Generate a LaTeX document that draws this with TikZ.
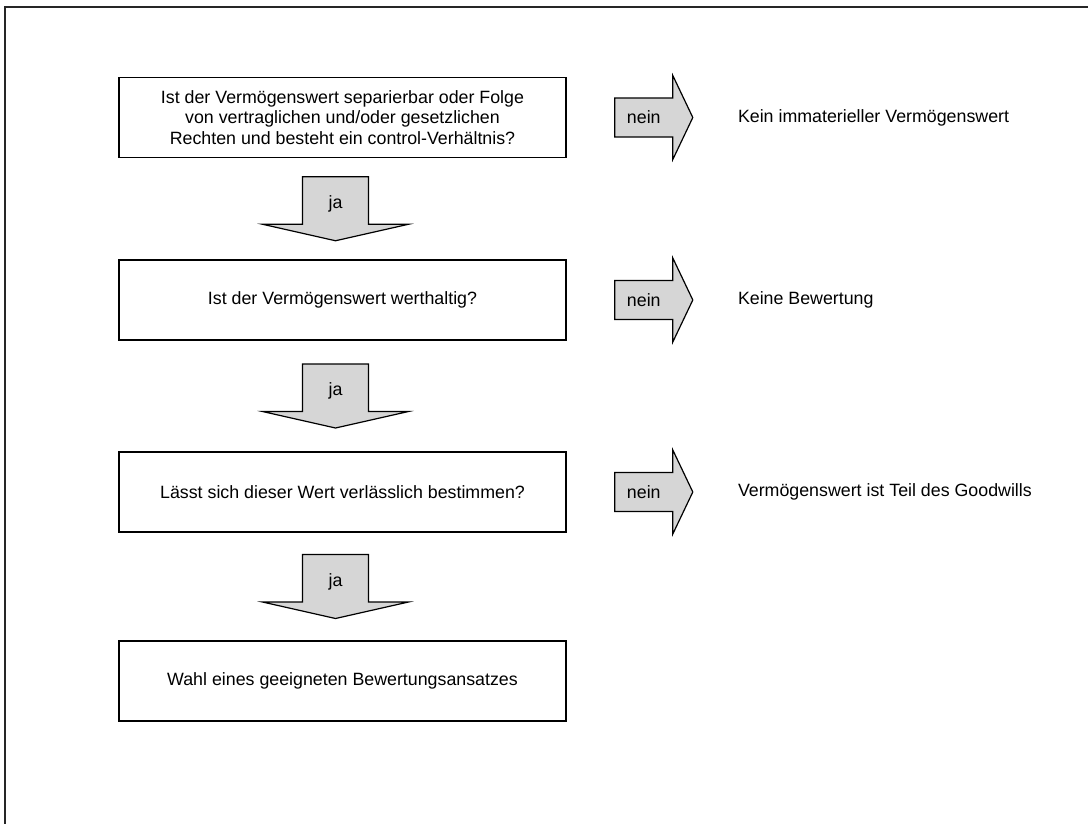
\documentclass[tikz,border=0pt]{standalone}
\usepackage{fontspec}
\setmainfont{Liberation Sans}
\usetikzlibrary{calc}
\definecolor{arrowbg}{HTML}{d6d6d6}
\definecolor{framegray}{HTML}{262626}

\begin{document}
\begin{tikzpicture}[x=1pt,y=-1pt,
every node/.style = {font=\fontsize{17.8}{20.5}\selectfont},
question/.style = {draw, line width=1.6pt, minimum width=447pt,
  minimum height=80pt, align=center, inner sep=0pt},
answer/.style = {anchor=west, inner sep=0pt},
blockarrow/.style = {line width=1.2pt, fill=arrowbg, line join=miter}
]
\useasboundingbox (0,0) rectangle (1088,823);
\draw [line width=2.2pt, color=framegray] (5,830) -- (5,7) -- (1095,7);

\node [question] (q1) at (342.5,117.5) {Ist der Vermögenswert separierbar oder Folge\\
  von vertraglichen und/oder gesetzlichen\\
  Rechten und besteht ein control-Verhältnis?};
\node [question] (q2) at (342.5,300) {Ist der Vermögenswert werthaltig?};
\node [question] (q3) at (342.5,492) {Lässt sich dieser Wert verlässlich bestimmen?};
\node [question] (q4) at (342.5,681) {Wahl eines geeigneten Bewertungsansatzes};

% ja arrows between the boxes
\foreach \a/\b/\n in {q1/q2/1, q2/q3/2, q3/q4/3} {
  \coordinate (d\n) at ($ (\a.south)!0.5!(\b.north) + (-7,0) $);
  \draw [blockarrow] ($ (d\n) + (-33,-32) $)
    -- ($ (d\n) + (33,-32) $)
    -- ($ (d\n) + (33,15.5) $)
    -- ($ (d\n) + (73,15.5) $)
    -- ($ (d\n) + (0,32) $)
    -- ($ (d\n) + (-73,15.5) $)
    -- ($ (d\n) + (-33,15.5) $)
    -- cycle;
  \node (ja\n) at ($ (d\n) + (0,-5) $) {ja};
}

% nein arrows to the answers
\foreach \a/\n/\t in {q1/1/{Kein immaterieller Vermögenswert},
    q2/2/{Keine Bewertung},
    q3/3/{Vermögenswert ist Teil des Goodwills}} {
  \coordinate (r\n) at ($ (\a.east) + (48,0) $);
  \draw [blockarrow] ($ (r\n) + (0,-19.5) $)
    -- ($ (r\n) + (58,-19.5) $)
    -- ($ (r\n) + (58,-42) $)
    -- ($ (r\n) + (78,0) $)
    -- ($ (r\n) + (58,42) $)
    -- ($ (r\n) + (58,19.5) $)
    -- ($ (r\n) + (0,19.5) $)
    -- cycle;
  \node (nein\n) at ($ (r\n) + (29,0) $) {nein};
  \node [answer] (a\n) at ($ (\a.east) + (171,0) $) {\t};
}

\end{tikzpicture}
\end{document}
